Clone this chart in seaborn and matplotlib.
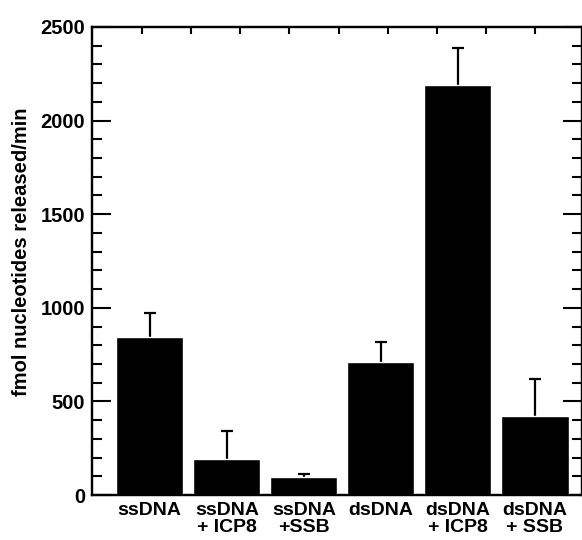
import numpy as np
import pandas as pd
import matplotlib
matplotlib.use("Agg")
import matplotlib.pyplot as plt
import seaborn as sns

# данные
categories = ["ssDNA", "ssDNA\n+ ICP8", "ssDNA\n+SSB", "dsDNA", "dsDNA\n+ ICP8", "dsDNA\n+ SSB"]
rates = [842, 190, 95, 709, 2190, 424]
errors = [128, 153, 17, 107, 196, 194]

df = pd.DataFrame({"cond": categories, "rate": rates})

sns.set_style("ticks")
plt.rcParams["font.family"] = ["Liberation Sans", "DejaVu Sans"]
plt.rcParams["text.color"] = "black"
plt.rcParams["axes.labelcolor"] = "black"
plt.rcParams["xtick.color"] = "black"
plt.rcParams["ytick.color"] = "black"
plt.rcParams["axes.edgecolor"] = "black"

fig = plt.figure(figsize=(5.82, 5.4), dpi=100)
ax = fig.add_axes([0.158, 0.0833, 0.842, 0.8667])

sns.barplot(data=df, x="cond", y="rate", color="black", saturation=1,
            width=0.87, errorbar=None, ax=ax, zorder=3)
# нижняя половина усов прячется под столбиками
ax.errorbar(np.arange(len(rates)), rates, yerr=errors,
            fmt="none", ecolor="black", elinewidth=1.6, capsize=4, capthick=1.6,
            zorder=1)

ax.set_xlim(-0.75, 5.61)
ax.set_ylim(0, 2500)
ax.set_yticks(np.arange(0, 2501, 500))
ax.set_yticks(np.arange(0, 2501, 100), minor=True)
ax.tick_params(axis="y", which="major", direction="in", length=14, width=1.5,
               left=True, right=True, labelsize=14.5, pad=5)
ax.tick_params(axis="y", which="minor", direction="in", length=7, width=1.5,
               left=True, right=True)
ax.tick_params(axis="x", length=0, labelsize=14, pad=5)
for lab in ax.get_yticklabels() + ax.get_xticklabels():
    lab.set_fontweight("bold")
    lab.set_linespacing(1.0)

# верхние декоративные засечки
ax_top = ax.twiny()
ax_top.set_xlim(ax.get_xlim())
ax_top.set_xticks(np.linspace(-0.1, 5.0, 9))
ax_top.set_xticklabels([])
ax_top.tick_params(axis="x", direction="in", length=5, width=1.5)

for a in (ax, ax_top):
    for s in a.spines.values():
        s.set_visible(True)
        s.set_linewidth(1.6)

ax.set_xlabel("")
ax.set_ylabel("fmol nucleotides released/min", fontsize=14.5, fontweight="bold")
ax.yaxis.set_label_coords(-0.125, 0.52)

fig.savefig("out.png", dpi=100)
